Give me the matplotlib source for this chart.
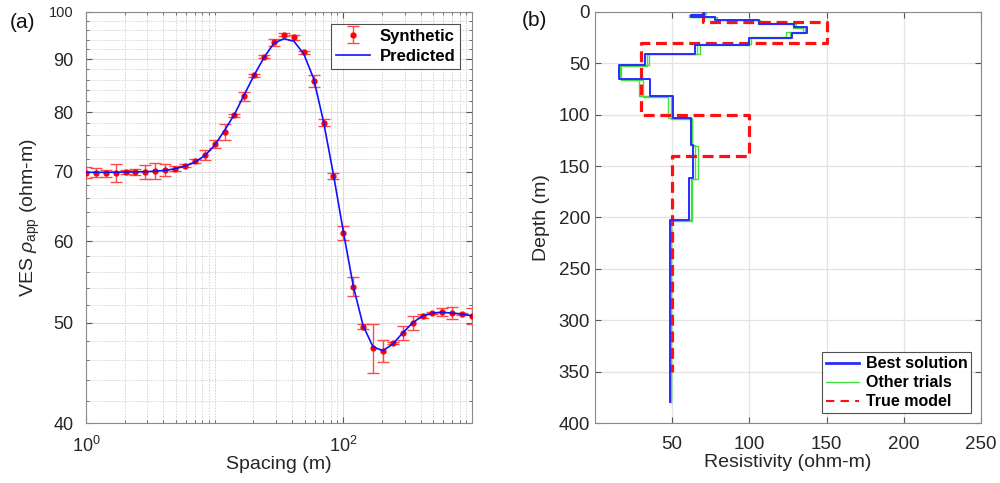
import numpy as np
import matplotlib
matplotlib.use("Agg")
import matplotlib.pyplot as plt
from matplotlib.ticker import FixedLocator, NullFormatter, FixedFormatter
from matplotlib.lines import Line2D

plt.rcParams['font.family'] = ['Liberation Sans', 'DejaVu Sans']
plt.rcParams['mathtext.fontset'] = 'custom'
plt.rcParams['mathtext.rm'] = 'Liberation Sans'
plt.rcParams['mathtext.it'] = 'Liberation Sans:italic'
plt.rcParams['mathtext.bf'] = 'Liberation Sans:bold'

# ---------------- data: panel (a) ----------------
spacing = [1.0, 1.194, 1.425, 1.701, 2.031, 2.424, 2.894, 3.455, 4.125, 4.924,
           5.878, 7.017, 8.377, 10.0, 11.94, 14.25, 17.01, 20.31, 24.24, 28.94,
           34.55, 41.25, 49.24, 58.78, 70.17, 83.77, 100.0, 119.4, 142.5, 170.1,
           203.1, 242.4, 289.4, 345.5, 412.5, 492.4, 587.8, 701.7, 837.7, 1000.0]
synthetic = [69.9, 69.9, 69.8, 69.9, 70.0, 70.0, 70.0, 70.2, 70.3, 70.5,
             71.0, 71.7, 72.7, 74.5, 76.5, 79.4, 82.9, 86.8, 90.5, 93.5,
             95.1, 94.5, 91.4, 85.7, 78.1, 69.4, 61.1, 54.2, 49.6, 47.3,
             47.0, 47.8, 48.9, 50.0, 50.8, 51.1, 51.2, 51.1, 51.0, 50.8]
err_pct = [1.3, 1.0, 0.8, 2.0, 0.5, 0.7, 1.6, 1.8, 1.4, 0.6,
           0.4, 0.4, 1.1, 0.8, 1.8, 0.4, 1.0, 0.4, 0.3, 0.8,
           0.3, 0.6, 0.4, 1.3, 0.8, 0.7, 1.5, 2.1, 0.5, 5.5,
           2.5, 0.3, 1.5, 1.5, 0.5, 0.3, 0.9, 1.3, 0.3, 1.8]
predicted = [69.95, 69.95, 69.95, 69.97, 70.0, 70.02, 70.05, 70.12, 70.25, 70.5,
             70.95, 71.55, 72.6, 74.3, 76.8, 79.6, 83.2, 86.9, 90.4, 93.3,
             94.2, 93.7, 91.1, 86.2, 78.3, 69.6, 61.3, 54.3, 49.7, 47.4,
             47.0, 47.7, 48.9, 50.0, 50.8, 51.1, 51.2, 51.1, 51.0, 50.8]
ytick_vals = [40, 50, 60, 70, 80, 90, 100]
xtick_vals = [1, 100]
xtick_labels = ['$10^{0}$', '$10^{2}$']

# ---------------- data: panel (b) ----------------
true_rho = [70, 150, 30, 100, 50]
true_depth = [0, 10, 30, 100, 140, 350]
best_rho = [70.5, 62, 77.5, 106.5, 129, 137, 127.5, 100, 65, 32.5, 15.3, 35.7,
            50.5, 62.3, 63.2, 61.2, 48.6]
best_depth = [0, 2.5, 4.5, 7.5, 11.5, 15, 20, 25, 32, 41, 52, 65.5, 82, 103.5,
              129.5, 162, 202.5, 380]
trial1_rho = [72, 63, 79, 107, 128, 134.5, 124, 101, 68, 35, 17, 30.9,
              47.6, 62.8, 65, 62, 49.2]
trial1_depth = [0, 2, 4.5, 8, 11, 15.5, 19.5, 24.5, 31, 40.5, 51.5, 66, 82.5,
                103, 129, 162.5, 202, 380]
trial2_rho = [71, 61, 78, 105.5, 130, 136, 126, 99.5, 66, 34, 16, 28.7,
              49.5, 62.5, 67, 62.5, 48.9]
trial2_depth = [0, 3, 5, 7.5, 12, 15, 20.5, 25, 32.5, 41, 52.5, 65, 81.5,
                104, 130, 163, 203, 380]
trials = [(trial1_rho, trial1_depth), (trial2_rho, trial2_depth)]


def stairs(rho, depth):
    x = np.repeat(np.asarray(rho, float), 2)
    y = np.repeat(np.asarray(depth, float), 2)[1:-1]
    return x, y


fig = plt.figure(figsize=(10, 4.83), dpi=100)
spine_c = '#8a8a8a'
txt_c = '#262626'

# ---------------- panel (a) ----------------
ax1 = fig.add_axes([0.086, 0.1242, 0.386, 0.851])
sp = np.asarray(spacing)
syn = np.asarray(synthetic)
err = syn * np.asarray(err_pct) / 100.0
eb = ax1.errorbar(sp, syn, yerr=err, fmt='.', color='red', ecolor='#ff4a4a',
                  elinewidth=1.0, capsize=4, capthick=1.0, markersize=7,
                  zorder=3)
ln, = ax1.plot(sp, predicted, '-', color='#1010ff', lw=1.2, zorder=4)
ax1.set_xscale('log')
ax1.set_yscale('log')
ax1.set_xlim(1, 1000)
ax1.set_ylim(40, 100)
ax1.xaxis.set_major_locator(FixedLocator(xtick_vals))
ax1.xaxis.set_major_formatter(FixedFormatter(xtick_labels))
minor_x = [m * 10 ** k for k in range(0, 3) for m in range(1, 10)
           if m * 10 ** k not in xtick_vals] + [1000]
ax1.xaxis.set_minor_locator(FixedLocator(minor_x))
ax1.xaxis.set_minor_formatter(NullFormatter())
ax1.yaxis.set_major_locator(FixedLocator(ytick_vals))
ax1.yaxis.set_major_formatter(FixedFormatter([str(v) for v in ytick_vals]))
ax1.yaxis.set_minor_locator(FixedLocator([v for v in range(42, 100, 2) if v % 10 != 0]))
ax1.yaxis.set_minor_formatter(NullFormatter())
ax1.grid(True, which='major', color='#dcdcdc', lw=0.8, ls='-')
ax1.grid(True, which='minor', color='#d2d2d2', lw=0.7, ls=(0, (1.5, 1.5)))
ax1.set_axisbelow(True)
ax1.tick_params(which='both', direction='in', top=True, right=True, colors='#555555',
                labelcolor=txt_c, labelsize=13)
ax1.tick_params(which='major', length=4)
ax1.tick_params(which='minor', length=2)
ax1.tick_params(axis='x', which='major', pad=9)
ax1.tick_params(axis='y', which='major', pad=9)
for lab in ax1.get_yticklabels():
    if lab.get_text() == '100':
        lab.set_fontsize(10.5)
for s in ax1.spines.values():
    s.set_color(spine_c)
    s.set_linewidth(0.8)
ax1.set_xlabel('Spacing (m)', fontsize=14, color=txt_c, labelpad=0)
ax1.set_ylabel(r'VES $\rho_{\mathrm{app}}$ (ohm-m)', fontsize=14, color=txt_c, labelpad=5)
leg1 = ax1.legend([eb, ln], ['Synthetic', 'Predicted'], loc='upper right',
                  prop={'weight': 'bold', 'size': 12},
                  frameon=True, fancybox=False, edgecolor=txt_c,
                  handlelength=2.0, borderpad=0.3, labelspacing=0.3,
                  handletextpad=0.6, borderaxespad=0.7)
leg1.get_frame().set_linewidth(0.8)
fig.text(0.010, 0.953, '(a)', fontsize=15, va='center', ha='left', color='#111111')

# ---------------- panel (b) ----------------
ax2 = fig.add_axes([0.595, 0.1242, 0.386, 0.851])
for r, d in trials:
    x, y = stairs(r, d)
    ax2.plot(x, y, '-', color='#44dd44', lw=1.0, zorder=2)
x, y = stairs(true_rho, true_depth)
ax2.plot(x, y, '--', color='#ff1010', lw=2.3, dashes=(3.4, 1.8), zorder=3)
x, y = stairs(best_rho, best_depth)
ax2.plot(x, y, '-', color='#2a2aff', lw=1.4, zorder=4)
ax2.set_xlim(0, 250)
ax2.set_ylim(400, 0)
ax2.set_xticks([50, 100, 150, 200, 250])
ax2.set_yticks([0, 50, 100, 150, 200, 250, 300, 350, 400])
ax2.grid(True, color='#e3e3e3', lw=0.9)
ax2.set_axisbelow(True)
ax2.tick_params(which='both', direction='in', top=True, right=True, colors='#555555',
                labelcolor=txt_c, labelsize=13.5, length=4)
ax2.tick_params(axis='x', pad=9)
for s in ax2.spines.values():
    s.set_color(spine_c)
    s.set_linewidth(0.8)
ax2.set_xlabel('Resistivity (ohm-m)', fontsize=14, color=txt_c, labelpad=1)
ax2.set_ylabel('Depth (m)', fontsize=14, color=txt_c, labelpad=6)
hb = Line2D([], [], color='#2a2aff', lw=2.0)
hg = Line2D([], [], color='#44dd44', lw=1.0)
hr = Line2D([], [], color='#ff1010', lw=1.5, ls='--', dashes=(4, 3))
leg2 = ax2.legend([hb, hg, hr], ['Best solution', 'Other trials', 'True model'],
                  loc='lower right', prop={'weight': 'bold', 'size': 11.5},
                  frameon=True, fancybox=False, edgecolor=txt_c,
                  handlelength=2.1, borderpad=0.25, labelspacing=0.25,
                  handletextpad=0.4, borderaxespad=0.6)
leg2.get_frame().set_linewidth(0.8)
fig.text(0.522, 0.958, '(b)', fontsize=15, va='center', ha='left', color='#111111')

fig.savefig('out.png', dpi=100)
